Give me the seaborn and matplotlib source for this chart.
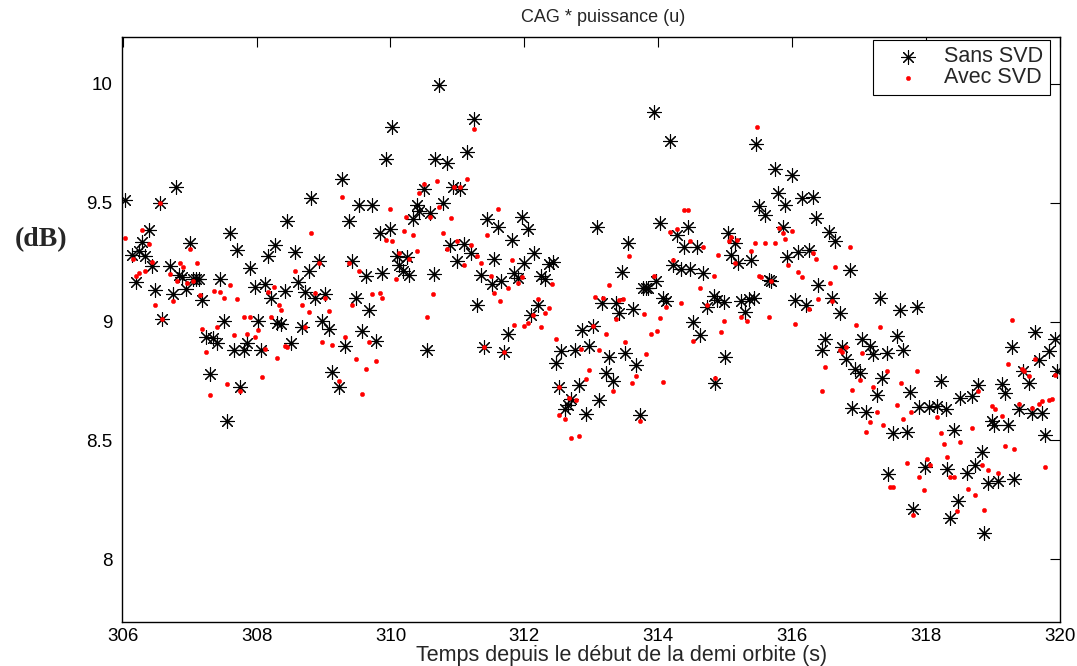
import matplotlib
matplotlib.use("Agg")
import matplotlib.pyplot as plt
import seaborn as sns
from matplotlib.ticker import FuncFormatter

# Sans SVD (black asterisks): time (s), level (dB)
sans_t = [306.04, 306.14, 306.20, 306.24, 306.29, 306.34, 306.39, 306.44, 306.49, 306.55,
          306.59, 306.71, 306.75, 306.80, 306.84, 306.89, 306.95, 307.00, 307.05, 307.10,
          307.14, 307.19, 307.25, 307.31, 307.35, 307.41, 307.46, 307.51, 307.56, 307.61,
          307.67, 307.71, 307.75, 307.81, 307.86, 307.90, 307.97, 308.02, 308.07, 308.12,
          308.17, 308.22, 308.27, 308.31, 308.37, 308.42, 308.46, 308.52, 308.58, 308.62,
          308.68, 308.73, 308.78, 308.82, 308.87, 308.93, 308.97, 309.02, 309.08, 309.12,
          309.23, 309.28, 309.32, 309.38, 309.43, 309.48, 309.53, 309.58, 309.63, 309.68,
          309.72, 309.78, 309.84, 309.88, 309.94, 309.99, 310.03, 310.10, 310.13, 310.18,
          310.24, 310.28, 310.34, 310.39, 310.43, 310.50, 310.55, 310.59, 310.65, 310.67,
          310.72, 310.79, 310.84, 310.89, 310.94, 310.99, 311.04, 311.10, 311.14, 311.20,
          311.25, 311.29, 311.35, 311.40, 311.44, 311.51, 311.55, 311.60, 311.65, 311.69,
          311.76, 311.81, 311.85, 311.91, 311.96, 312.00, 312.06, 312.10, 312.15, 312.20,
          312.25, 312.31, 312.37, 312.42, 312.47, 312.51, 312.55, 312.61, 312.65, 312.70,
          312.76, 312.81, 312.86, 312.92, 312.96, 313.03, 313.08, 313.12, 313.16, 313.22,
          313.26, 313.32, 313.37, 313.41, 313.46, 313.51, 313.55, 313.62, 313.67, 313.73,
          313.77, 313.81, 313.85, 313.93, 313.97, 314.03, 314.07, 314.12, 314.18, 314.22,
          314.28, 314.34, 314.38, 314.44, 314.48, 314.52, 314.58, 314.63, 314.67, 314.73,
          314.83, 314.84, 314.88, 314.98, 315.00, 315.04, 315.08, 315.15, 315.19, 315.23,
          315.30, 315.35, 315.38, 315.43, 315.46, 315.51, 315.60, 315.65, 315.69, 315.75,
          315.79, 315.86, 315.90, 315.93, 316.00, 316.04, 316.08, 316.15, 316.20, 316.25,
          316.31, 316.35, 316.38, 316.44, 316.49, 316.55, 316.59, 316.64, 316.71, 316.75,
          316.80, 316.86, 316.90, 316.94, 317.02, 317.05, 317.10, 317.16, 317.21, 317.27,
          317.31, 317.34, 317.41, 317.43, 317.50, 317.57, 317.61, 317.66, 317.72, 317.76,
          317.81, 317.87, 317.89, 317.99, 318.05, 318.17, 318.22, 318.29, 318.31, 318.35,
          318.42, 318.47, 318.50, 318.61, 318.68, 318.73, 318.78, 318.83, 318.87, 318.92,
          318.98, 319.02, 319.07, 319.13, 319.18, 319.22, 319.28, 319.32, 319.39, 319.45,
          319.54, 319.58, 319.63, 319.69, 319.73, 319.77, 319.83, 319.92, 319.96]
sans_db = [9.51, 9.279, 9.167, 9.296, 9.335, 9.276, 9.385, 9.234, 9.133, 9.50,
           9.012, 9.234, 9.116, 9.565, 9.197, 9.189, 9.136, 9.332, 9.18, 9.18,
           9.18, 9.09, 8.936, 8.777, 8.931, 8.909, 9.18, 9.001, 8.58, 9.374,
           8.88, 9.30, 8.726, 8.88, 8.909, 9.226, 9.144, 9.001, 8.878, 9.158,
           9.276, 9.10, 9.324, 8.993, 8.99, 9.128, 9.422, 8.909, 9.293, 9.167,
           8.979, 9.125, 9.214, 9.52, 9.10, 9.254, 9.004, 9.116, 8.97, 8.788,
           8.726, 9.60, 8.895, 9.425, 9.256, 9.097, 9.49, 8.962, 9.19, 9.05,
           9.492, 8.917, 9.374, 9.206, 9.686, 9.39, 9.82, 9.276, 9.237, 9.214,
           9.273, 9.197, 9.433, 9.49, 9.464, 9.56, 8.88, 9.456, 9.20, 9.683,
           9.995, 9.498, 9.666, 9.324, 9.565, 9.256, 9.56, 9.327, 9.714, 9.287,
           9.854, 9.07, 9.197, 8.894, 9.433, 9.158, 9.262, 9.40, 9.172, 8.872,
           8.948, 9.343, 9.203, 9.183, 9.44, 9.248, 9.39, 9.029, 9.287, 9.07,
           9.192, 9.178, 9.242, 9.25, 8.824, 8.723, 8.875, 8.633, 8.648, 8.673,
           8.88, 8.732, 8.965, 8.611, 8.897, 8.982, 9.40, 8.67, 9.077, 8.782,
           8.85, 8.751, 9.077, 9.035, 9.209, 8.866, 9.33, 9.054, 8.816, 8.608,
           9.139, 9.139, 9.139, 9.882, 9.17, 9.414, 9.097, 9.085, 9.761, 9.24,
           9.363, 9.223, 9.315, 9.40, 9.223, 8.998, 9.315, 8.945, 9.206, 9.06,
           9.108, 8.741, 9.09, 9.082, 8.85, 9.372, 9.279, 9.332, 9.248, 9.088,
           9.04, 9.094, 9.259, 9.097, 9.747, 9.485, 9.447, 9.175, 9.172, 9.641,
           9.543, 9.397, 9.49, 9.27, 9.616, 9.09, 9.293, 9.52, 9.07, 9.301,
           9.526, 9.436, 9.155, 8.878, 8.928, 9.377, 9.097, 9.34, 9.035, 8.894,
           8.844, 9.217, 8.634, 8.80, 8.785, 8.925, 8.617, 8.897, 8.864, 8.692,
           9.097, 8.763, 8.869, 8.356, 8.53, 8.94, 9.049, 8.88, 8.533, 8.704,
           8.21, 9.06, 8.64, 8.389, 8.64, 8.645, 8.749, 8.633, 8.378, 8.173,
           8.544, 8.244, 8.676, 8.361, 8.687, 8.398, 8.732, 8.451, 8.111, 8.322,
           8.58, 8.566, 8.328, 8.735, 8.698, 8.566, 8.892, 8.336, 8.633, 8.791,
           8.74, 8.614, 8.956, 8.838, 8.614, 8.524, 8.875, 8.928, 8.791]

# Avec SVD (red dots)
avec_t = [306.04, 306.15, 306.20, 306.24, 306.29, 306.34, 306.40, 306.44, 306.49, 306.55,
          306.59, 306.71, 306.75, 306.81, 306.85, 306.90, 306.96, 307.00, 307.05, 307.11,
          307.15, 307.19, 307.25, 307.31, 307.36, 307.41, 307.46, 307.52, 307.56, 307.61,
          307.67, 307.70, 307.75, 307.81, 307.86, 307.90, 307.97, 308.02, 308.08, 308.12,
          308.17, 308.22, 308.26, 308.31, 308.34, 308.37, 308.42, 308.46, 308.58, 308.68,
          308.72, 308.78, 308.82, 308.87, 308.93, 308.97, 309.02, 309.08, 309.13, 309.23,
          309.28, 309.32, 309.38, 309.43, 309.48, 309.53, 309.58, 309.63, 309.68, 309.72,
          309.78, 309.84, 309.88, 309.94, 309.99, 310.03, 310.08, 310.13, 310.20, 310.23,
          310.28, 310.34, 310.39, 310.43, 310.50, 310.55, 310.59, 310.64, 310.69, 310.73,
          310.79, 310.84, 310.90, 310.95, 310.99, 311.04, 311.10, 311.14, 311.20, 311.25,
          311.29, 311.35, 311.40, 311.44, 311.50, 311.55, 311.60, 311.64, 311.69, 311.76,
          311.81, 311.85, 311.91, 311.96, 312.00, 312.06, 312.13, 312.21, 312.25, 312.31,
          312.37, 312.41, 312.47, 312.51, 312.51, 312.61, 312.66, 312.70, 312.77, 312.81,
          312.85, 312.92, 312.96, 313.03, 313.06, 313.11, 313.17, 313.22, 313.26, 313.32,
          313.37, 313.41, 313.48, 313.51, 313.56, 313.61, 313.67, 313.73, 313.79, 313.82,
          313.89, 313.93, 313.98, 314.03, 314.07, 314.12, 314.18, 314.22, 314.28, 314.34,
          314.38, 314.45, 314.48, 314.52, 314.63, 314.67, 314.73, 314.83, 314.84, 314.89,
          314.93, 314.98, 315.05, 315.08, 315.14, 315.18, 315.23, 315.33, 315.38, 315.44,
          315.48, 315.50, 315.53, 315.60, 315.65, 315.69, 315.75, 315.80, 315.86, 315.90,
          315.94, 316.00, 316.04, 316.09, 316.15, 316.25, 316.31, 316.35, 316.39, 316.45,
          316.49, 316.56, 316.60, 316.64, 316.72, 316.75, 316.80, 316.86, 316.90, 316.95,
          317.01, 317.05, 317.10, 317.16, 317.21, 317.27, 317.31, 317.36, 317.41, 317.46,
          317.51, 317.57, 317.62, 317.66, 317.72, 317.77, 317.81, 317.87, 317.90, 317.97,
          318.01, 318.06, 318.17, 318.22, 318.27, 318.31, 318.36, 318.42, 318.46, 318.51,
          318.62, 318.68, 318.73, 318.78, 318.83, 318.87, 318.92, 318.98, 319.03, 319.07,
          319.13, 319.18, 319.22, 319.28, 319.32, 319.39, 319.43, 319.46, 319.54, 319.58,
          319.63, 319.69, 319.73, 319.77, 319.83, 319.88, 319.92]
avec_db = [9.352, 9.265, 9.19, 9.203, 9.386, 9.214, 9.327, 9.25, 9.07, 9.50,
           9.012, 9.20, 9.088, 9.172, 9.245, 9.228, 9.164, 9.307, 9.17, 9.248,
           9.11, 8.97, 8.87, 8.69, 9.13, 8.978, 9.125, 9.10, 8.737, 9.155,
           8.945, 9.094, 8.706, 9.021, 8.948, 9.021, 8.936, 8.965, 8.766, 8.886,
           9.125, 9.018, 9.144, 8.847, 9.07, 9.05, 8.897, 8.892, 9.214, 9.068,
           8.979, 9.04, 9.372, 9.122, 9.245, 8.914, 9.097, 9.046, 8.903, 8.749,
           9.523, 8.934, 9.245, 9.071, 8.841, 9.214, 8.695, 8.80, 8.914, 9.116,
           8.835, 9.122, 9.097, 9.343, 9.475, 9.338, 9.18, 9.29, 9.383, 9.44,
           9.265, 9.366, 9.296, 9.543, 9.58, 9.021, 9.44, 9.116, 9.59, 9.484,
           9.374, 9.304, 9.436, 9.568, 9.338, 9.568, 9.237, 9.601, 9.324, 9.809,
           9.276, 9.248, 8.894, 9.366, 9.192, 9.119, 9.473, 9.085, 8.872, 9.139,
           9.259, 8.987, 9.161, 9.189, 8.982, 8.993, 9.029, 9.094, 8.979, 9.035,
           9.057, 9.156, 8.925, 8.723, 8.606, 8.589, 8.676, 8.51, 8.67, 8.516,
           8.883, 8.757, 8.796, 8.982, 9.105, 8.878, 9.097, 8.948, 9.155, 8.706,
           9.012, 9.09, 9.094, 8.912, 9.276, 8.74, 8.771, 8.583, 9.032, 8.864,
           8.948, 9.192, 8.962, 9.015, 8.746, 9.06, 9.377, 9.259, 9.391, 9.077,
           9.47, 9.47, 9.34, 8.92, 9.139, 9.313, 9.071, 9.192, 8.763, 9.279,
           8.956, 9.001, 9.34, 9.355, 9.248, 9.343, 9.021, 9.001, 9.296, 9.33,
           9.818, 9.19, 9.187, 9.332, 9.021, 9.172, 9.33, 9.394, 9.372, 9.346,
           9.237, 9.383, 8.99, 9.209, 9.189, 9.054, 9.287, 9.262, 9.094, 8.706,
           8.81, 9.164, 9.088, 9.228, 8.88, 8.872, 8.892, 9.313, 8.712, 8.985,
           8.754, 8.867, 8.535, 8.575, 8.726, 8.617, 8.979, 8.563, 8.793, 8.303,
           8.303, 8.65, 8.743, 8.589, 8.406, 8.617, 8.185, 8.793, 8.345, 8.291,
           8.42, 8.398, 8.597, 8.53, 8.485, 8.429, 8.345, 8.345, 8.204, 8.493,
           8.294, 8.552, 8.269, 8.706, 8.395, 8.207, 8.375, 8.645, 8.631, 8.364,
           8.603, 8.476, 8.822, 9.007, 8.465, 8.653, 8.80, 8.793, 8.771, 8.636,
           8.844, 8.653, 8.664, 8.389, 8.67, 8.673, 8.774]

sns.set_style("white")
plt.rcParams['font.family'] = ['Liberation Sans', 'DejaVu Sans']

fig = plt.figure(figsize=(10.77, 6.66), dpi=100)
ax = fig.add_axes([0.1133, 0.0661, 0.8709, 0.8784])

sns.scatterplot(x=sans_t, y=sans_db, marker=(8, 2, 0), s=100, color='black',
                linewidth=0.8, ax=ax, label='Sans SVD')
sns.scatterplot(x=avec_t, y=avec_db, marker='o', s=10, color='red',
                edgecolor='red', linewidth=0.3, ax=ax, label='Avec SVD')

ax.set_xlim(305.99, 320.0)
ax.set_ylim(7.735, 10.198)
ax.set_xticks([306, 308, 310, 312, 314, 316, 318, 320])
ax.set_yticks([8, 8.5, 9, 9.5, 10])
ax.yaxis.set_major_formatter(FuncFormatter(lambda v, p: f"{v:g}"))
ax.tick_params(direction='in', length=7, width=0.8, top=True, right=True,
               labelsize=13.5, colors='black', pad=4)
ax.tick_params(axis='y', pad=7)
for sp in ax.spines.values():
    sp.set_color('black')
    sp.set_linewidth(1.0)

fig.text(603 / 1077, 1 - 17 / 666, "CAG * puissance (u)", fontsize=13,
         ha='center', va='center')
fig.text(622 / 1077, 1 - 655 / 666, "Temps depuis le début de la demi orbite (s)",
         fontsize=15.5, ha='center', va='center')
fig.text(0.038, 0.64, "(dB)", fontsize=20, fontweight='bold',
         family=['Liberation Serif', 'DejaVu Serif'], ha='center', va='center')

leg = ax.legend(loc='upper right', bbox_to_anchor=(1050 / 1077, 1 - 40 / 666),
                bbox_transform=fig.transFigure, fontsize=15.5, frameon=True,
                fancybox=False, framealpha=1, edgecolor='black', borderaxespad=0,
                handlelength=2.6, handletextpad=0.4, borderpad=0.3, labelspacing=0.0)
leg.get_frame().set_linewidth(0.8)

fig.savefig("out.png", dpi=100)
